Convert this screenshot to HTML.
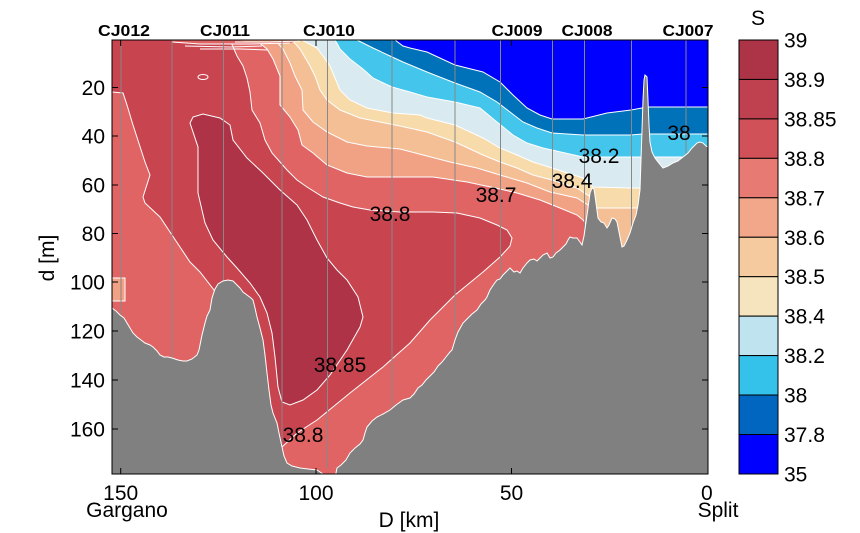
<!DOCTYPE html>
<html>
<head>
<meta charset="utf-8">
<style>
  html,body{margin:0;padding:0;background:#fff;}
  body{width:860px;height:533px;overflow:hidden;position:relative;}
  svg{position:absolute;left:0;top:0;}
  text{font-family:"Liberation Sans",Arial,sans-serif;fill:#000;}
</style>
</head>
<body>
<svg width="860" height="533" viewBox="0 0 860 533" xmlns="http://www.w3.org/2000/svg">
  <defs>
    <clipPath id="pc"><rect x="112" y="40" width="596" height="434"/></clipPath>
  </defs>

  <g clip-path="url(#pc)">
    <!-- base: 38.7-38.8 -->
    <rect x="112" y="40" width="596" height="434" fill="#E06464"/>

    <!-- >38.8 region -->
    <polygon fill="#C8454F" stroke="#fff" stroke-width="1" points="
      112,40 230,40 237,56 243,66 247,78 250,92 252,110 260,123 265,140 272,153 280,162 287,170 297,180 307,187 323,197 340,203 353,207 370,210 400,212 433,212 457,213 480,218 497,225 507,230 512,238 510,246 500,257 483,272 455,295 430,320 410,343 383,367 350,393 317,420 297,433 282,447
      270,440 262,380 252,320 235,295 222,292 216,294
      214,290 200,272 190,262 170,232 160,217 145,203 143,197 150,175 145,162 133,125 127,105 123,93 112,92"/>

    <!-- core >38.85 -->
    <polygon fill="#AE3346" stroke="#fff" stroke-width="1" points="
      190,123 193,117 203,114 220,118 230,125 233,140 247,158 263,173 280,190 297,205 307,220 317,240 327,258 337,270 347,280 358,297 363,317 360,327 347,350 330,375 317,390 303,400 290,405 282,402 278,387 275,357 272,333 267,313 260,297 250,283 237,268 227,257 213,240 205,223 198,193 198,147"/>

    <!-- fresh layers -->
    <polygon fill="#F1A184" stroke="#fff" stroke-width="1" points="
      255,40 262,45 267,49 273,59 280,76 280,90 280,105 290,117 298,130 302,145 313,153 327,165 347,173 367,177 400,177 433,177 467,182 500,189 517,193 540,200 560,208 577,215 583,220 586,224 592,240 640,280 708,300 708,40"/>
    <polygon fill="#F5BF96" stroke="#fff" stroke-width="1" points="
      275,40 283,49 290,63 295,76 302,90 303,110 313,122 327,132 347,142 367,146 400,149 427,156 450,162 477,168 500,175 527,183 550,192 577,198 588,205 592,240 640,280 708,300 708,40"/>
    <polygon fill="#F7DBAB" stroke="#fff" stroke-width="1" points="
      292,40 300,49 310,66 315,76 320,90 327,100 340,110 360,118 380,122 400,126 427,132 455,142 483,155 500,162 517,168 533,175 552,180 577,188 589,196 592,200 597,208 638,208 650,260 708,300 708,40"/>
    <polygon fill="#D9EBF1" stroke="#fff" stroke-width="1" points="
      302,40 317,48 323,56 330,66 335,78 340,90 350,100 367,108 393,113 420,115 427,118 455,125 483,138 500,148 517,155 533,162 552,168 583,178 593,187 631,188 640,188 645,200 708,300 708,40"/>
    <polygon fill="#44C5EC" stroke="#fff" stroke-width="1" points="
      335,40 338,45 340,49 350,59 363,69 373,78 392,87 410,92 427,97 455,102 480,108 497,122 513,135 527,143 543,148 552,150 583,157 631,157 641,157 653,157 683,157 690,157 700,160 708,160 708,40"/>
    <polygon fill="#0072B9" stroke="#fff" stroke-width="1" points="
      357,40 373,48 390,56 403,62 427,72 455,83 480,92 497,102 510,112 523,122 537,128 552,133 583,135 631,135 642,134 650,134 708,134 708,40"/>
    <polygon fill="#0000FF" stroke="#fff" stroke-width="1" points="
      395,40 403,46 410,48 427,52 455,65 483,72 500,82 513,95 527,108 540,115 552,119 583,119 607,113 631,110 642,108 648,107 708,107 708,40"/>

    <!-- thin surface layers -->
    <polygon fill="#E06464" points="172,40 300,40 290,43 250,44 200,44 172,42"/>
    <polygon fill="#F1A184" points="235,40 300,40 285,42 250,42"/>
    <polyline fill="none" stroke="#fff" stroke-width="1" points="172,42 200,44 250,44 290,43"/>
    <polyline fill="none" stroke="#fff" stroke-width="1" points="185,46 230,47 262,46"/>
    <polyline fill="none" stroke="#fff" stroke-width="1" points="200,49 240,49 268,50"/>
    <polyline fill="none" stroke="#fff" stroke-width="1" points="235,42 270,42 300,41"/>

    <!-- small features -->
    <ellipse cx="203" cy="77" rx="5" ry="2.5" fill="#C8454F" stroke="#fff" stroke-width="1"/>
    <rect x="111" y="278" width="14" height="23" fill="#F1A184" stroke="#fff" stroke-width="1"/>

    <!-- station lines -->
    <g stroke="#888" stroke-width="1">
      <line x1="121" y1="40" x2="121" y2="317"/>
      <line x1="172" y1="40" x2="172" y2="358"/>
      <line x1="223.5" y1="40" x2="223.5" y2="281"/>
      <line x1="282" y1="40" x2="282" y2="447"/>
      <line x1="327.5" y1="40" x2="327.5" y2="468"/>
      <line x1="392" y1="40" x2="392" y2="408"/>
      <line x1="455" y1="40" x2="455" y2="350"/>
      <line x1="500.5" y1="40" x2="500.5" y2="277"/>
      <line x1="552.5" y1="40" x2="552.5" y2="258"/>
      <line x1="584.5" y1="40" x2="584.5" y2="243"/>
      <line x1="631.5" y1="40" x2="631.5" y2="228"/>
      <line x1="686" y1="40" x2="686" y2="157"/>
    </g>

    <!-- bathymetry -->
    <polygon fill="#808080" stroke="#fff" stroke-width="1" points="
      112,308 116,311 120,315 124,318 127,323 130,328 133,333 137,337 141,340 145,343 150,345 153,347 157,351 160,355 164,357 168,357 172,358 178,360 183,361 187,361 192,359 197,355 199,350 200,345 202,335 205,323 207,316 210,310 212,298 215,289 218,284 223,281 228,280 233,281 236,284 240,288 243,292 247,295 251,298 253,300 255,308 257,317 260,328 263,340 265,355 267,373 269,390 271,405 273,413 277,423 279,433 282,447 284,456 287,463 292,466 300,468 308,469 317,470 320,472 323,474 323,478 100,478 100,308"/>
    <polygon fill="#808080" stroke="#fff" stroke-width="1" points="
      335,478 337,468 341,465 346,460 350,453 355,448 360,444 363,440 365,433 367,427 372,421 377,417 383,414 390,410 396,405 403,400 410,398 414,394 418,388 422,385 426,380 430,376 434,372 438,366 442,362 446,357 450,352 452,350 455,340 458,332 463,323 468,318 472,314 477,310 481,304 485,300 487,297 490,290 494,284 497,280 500,279 503,275 506,272 508,270 510,268 514,272 517,271 520,273 523,268 527,263 530,260 534,259 537,261 540,258 543,255 547,253 550,258 553,257 556,253 560,250 563,247 566,244 568,240 570,237 573,238 577,238 580,242 582,245 584,236 586,222 588,208 590,193 592,188 594,189 596,203 598,218 601,222 604,223 607,228 609,225 612,218 615,219 617,222 619,232 622,247 624,246 627,240 630,233 633,223 636,215 638,205 640,190 641,160 642,130 643,100 644,80 645,75 647,77 648,100 649,125 650,142 652,152 655,158 658,162 663,168 668,166 673,163 678,161 683,157 688,153 692,148 697,143 700,142 703,143 706,146 708,147 712,147 712,478"/>

    <!-- contour labels -->
    <g font-size="21" text-anchor="middle">
      <text x="390" y="221">38.8</text>
      <text x="340" y="372">38.85</text>
      <text x="303" y="442">38.8</text>
      <text x="496" y="202">38.7</text>
      <text x="572" y="188">38.4</text>
      <text x="599" y="163">38.2</text>
      <text x="679" y="140">38</text>
    </g>
  </g>

  <!-- axes box -->
  <rect x="112" y="40" width="596" height="434" fill="none" stroke="#000" stroke-width="1"/>
  <!-- ticks -->
  <g stroke="#000" stroke-width="1">
    <line x1="112" y1="87.5" x2="118" y2="87.5"/><line x1="708" y1="87.5" x2="702" y2="87.5"/>
    <line x1="112" y1="136" x2="118" y2="136"/><line x1="708" y1="136" x2="702" y2="136"/>
    <line x1="112" y1="185" x2="118" y2="185"/><line x1="708" y1="185" x2="702" y2="185"/>
    <line x1="112" y1="233.5" x2="118" y2="233.5"/><line x1="708" y1="233.5" x2="702" y2="233.5"/>
    <line x1="112" y1="282" x2="118" y2="282"/><line x1="708" y1="282" x2="702" y2="282"/>
    <line x1="112" y1="331" x2="118" y2="331"/><line x1="708" y1="331" x2="702" y2="331"/>
    <line x1="112" y1="380" x2="118" y2="380"/><line x1="708" y1="380" x2="702" y2="380"/>
    <line x1="112" y1="429" x2="118" y2="429"/><line x1="708" y1="429" x2="702" y2="429"/>
    <line x1="120.7" y1="474" x2="120.7" y2="468"/><line x1="120.7" y1="40" x2="120.7" y2="46"/>
    <line x1="316" y1="474" x2="316" y2="468"/><line x1="316" y1="40" x2="316" y2="46"/>
    <line x1="511.5" y1="474" x2="511.5" y2="468"/><line x1="511.5" y1="40" x2="511.5" y2="46"/>
  </g>

  <!-- y tick labels -->
  <g font-size="21" text-anchor="end">
    <text x="105" y="95">20</text>
    <text x="105" y="143.5">40</text>
    <text x="105" y="192.5">60</text>
    <text x="105" y="241">80</text>
    <text x="105" y="289.5">100</text>
    <text x="105" y="338.5">120</text>
    <text x="105" y="387.5">140</text>
    <text x="105" y="436.5">160</text>
  </g>
  <!-- x tick labels -->
  <g font-size="21" text-anchor="middle">
    <text x="120.7" y="500">150</text>
    <text x="316" y="500">100</text>
    <text x="511.5" y="500">50</text>
    <text x="706.8" y="500">0</text>
    <text x="127" y="517">Gargano</text>
    <text x="718" y="517">Split</text>
    <text x="409" y="527">D [km]</text>
  </g>
  <text font-size="21" text-anchor="middle" transform="translate(54,258) rotate(-90)">d [m]</text>

  <!-- station labels -->
  <g font-size="16" font-weight="bold" text-anchor="middle">
    <text x="124" y="36" textLength="52" lengthAdjust="spacingAndGlyphs">CJ012</text>
    <text x="225" y="36" textLength="50" lengthAdjust="spacingAndGlyphs">CJ011</text>
    <text x="329" y="36" textLength="52" lengthAdjust="spacingAndGlyphs">CJ010</text>
    <text x="517" y="36" textLength="51" lengthAdjust="spacingAndGlyphs">CJ009</text>
    <text x="587" y="36" textLength="51" lengthAdjust="spacingAndGlyphs">CJ008</text>
    <text x="688" y="36" textLength="51" lengthAdjust="spacingAndGlyphs">CJ007</text>
  </g>

  <!-- colorbar -->
  <g stroke="#000" stroke-width="1">
    <rect x="739" y="40" width="39" height="39.45" fill="#AD3447"/>
    <rect x="739" y="79.45" width="39" height="39.45" fill="#BF414F"/>
    <rect x="739" y="118.9" width="39" height="39.45" fill="#D15158"/>
    <rect x="739" y="158.35" width="39" height="39.45" fill="#E77B73"/>
    <rect x="739" y="197.8" width="39" height="39.45" fill="#F2A68A"/>
    <rect x="739" y="237.25" width="39" height="39.45" fill="#F5CA9F"/>
    <rect x="739" y="276.7" width="39" height="39.45" fill="#F5E4BD"/>
    <rect x="739" y="316.15" width="39" height="39.45" fill="#BFE3EF"/>
    <rect x="739" y="355.6" width="39" height="39.45" fill="#34C1EA"/>
    <rect x="739" y="395.05" width="39" height="39.45" fill="#0066BF"/>
    <rect x="739" y="434.5" width="39" height="39.5" fill="#0000FF"/>
  </g>
  <g font-size="21">
    <text x="784" y="47.5">39</text>
    <text x="784" y="87">38.9</text>
    <text x="784" y="126.4">38.85</text>
    <text x="784" y="165.9">38.8</text>
    <text x="784" y="205.3">38.7</text>
    <text x="784" y="244.8">38.6</text>
    <text x="784" y="284.2">38.5</text>
    <text x="784" y="323.7">38.4</text>
    <text x="784" y="363.1">38.2</text>
    <text x="784" y="402.6">38</text>
    <text x="784" y="442">37.8</text>
    <text x="784" y="481.5">35</text>
  </g>
  <text x="758" y="25" font-size="21" text-anchor="middle">S</text>
</svg>
</body>
</html>
